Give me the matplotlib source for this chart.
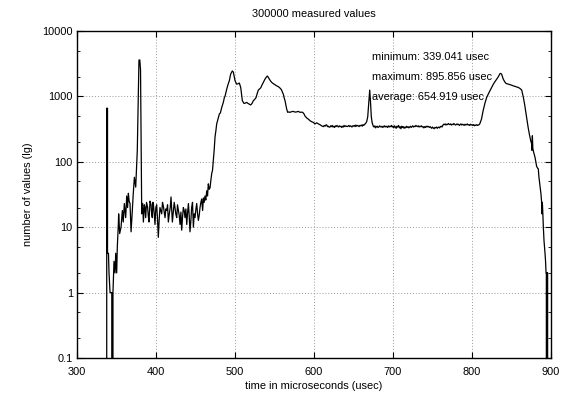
import matplotlib
matplotlib.use("Agg")
import matplotlib.pyplot as plt
from matplotlib.ticker import LogLocator, FixedLocator, NullFormatter

title = "300000 measured values"
xlabel = "time in microseconds (usec)"
ylabel = "number of values (lg)"
stats_text = ["minimum: 339.041 usec", "maximum: 895.856 usec", "average: 654.919 usec"]
x_ticks = [300, 400, 500, 600, 700, 800, 900]
y_ticks = [0.1, 1, 10, 100, 1000, 10000]
y_tick_labels = ["0.1", "1", "10", "100", "1000", "10000"]

# (time in usec, count)
time_us = [
    336, 337.6, 337.6, 338.6, 338.6, 339.8, 340.5, 341.8, 344.0, 344.0, 345.5, 345.5,
    346.8, 348.1, 349, 350.2, 351, 352.3, 352.7, 354, 355.7, 357.4, 358.5, 359.9,
    361.6, 362.9, 364, 365, 366, 367.1, 368.4, 369.2, 370, 371, 372.6, 374.3, 375.5,
    376.3, 377.6, 378.4, 379.5, 380.4, 381, 381.9,
    383.1, 384, 385.2, 386, 386.9, 388, 389.4, 390.2, 391.1, 392.4, 393.7, 394.5,
    395.3, 396, 396.6, 397.6, 398.7, 399.8, 400.8, 401.8, 402.9, 404, 405, 406,
    407.2, 408.2, 409.3, 410.4, 411.4, 412.4, 413.5, 414.6, 415.6, 416.8, 418, 419,
    420.7, 422, 423, 424, 425, 426.2, 427.2, 428.3, 429.4, 430.4, 431.5, 432.5,
    433.5, 434.6, 435.7, 436.7, 437.8, 438.9, 440, 441, 442, 443, 444, 445.1,
    446.2, 447.3, 448.3, 449.4, 450.5, 451.5, 452.6, 453.6, 454.6, 455.7, 456.8,
    457.8, 459, 460, 461, 462, 463, 464.2, 465.2, 466.2, 467.3, 468.4, 469.4,
    470.5, 471.5, 472.6, 473.6, 474.7, 475.8, 476.8, 478, 479, 480.2, 481.5, 483.2,
    485.2, 486.5, 487.3, 489.5, 491, 492.8, 494.5, 496.6, 497.9, 500, 502.1, 503.8,
    505.5, 507.2, 509.3, 511.4, 513, 514.8, 516.5, 518.1, 519.8, 521.5, 523.2,
    524.9, 526.6, 528, 529.5, 531, 532.5, 534.2, 535.9, 537.5, 539.2, 540.9, 542.2,
    543.5, 545, 546.4, 548, 549.4, 551, 552.7, 554.4, 556.1, 557.5, 559, 560.1,
    561.2, 562.2, 563.3, 564.3, 565.4, 566.7, 568, 569.6, 571.7, 573.8, 576, 578.1,
    580.2, 582.3, 584, 585.7, 587.3, 588.6, 589.9, 591.4, 592.8, 594.9, 597, 599.1,
    601.3, 603.4, 605.5, 607.5, 609.6, 611.8,
    613, 614, 615, 616, 617, 618, 619, 620, 621, 622, 623, 624, 625, 626, 627, 628,
    629, 630, 631, 632, 633, 634, 635, 636, 637, 638, 639, 640, 642, 643, 644, 645,
    646, 647, 648, 649, 650, 651, 652, 653, 654, 655, 656, 657, 658, 659, 660, 661,
    662, 663, 664, 665, 666.7, 668, 669.3, 670.5, 671.5, 672.5, 673.5, 675,
    676, 677, 678, 679, 680, 681, 682, 683, 684, 685, 686, 687, 688, 689, 690, 691,
    692, 693, 694, 695, 696, 697, 698, 699, 700, 701, 702, 703, 704, 705, 706, 707,
    708, 709, 710, 711, 712, 713, 714, 715, 716, 717, 718, 719, 720, 721, 722, 723,
    724, 725, 726, 727, 728, 729, 730, 731, 732, 733, 734, 735, 736, 737, 738, 739,
    740, 741, 742, 743, 744, 745, 746, 747,
    748, 749, 750, 751, 752, 753, 754, 755, 756, 757, 758, 759, 760, 761, 762, 763,
    764, 765, 766, 767, 768, 769, 770, 771, 772, 773, 774, 775, 776, 777, 778, 779,
    780, 781, 782, 783, 784, 785, 786, 787, 788, 789, 790, 791, 792, 793, 794, 795,
    796, 797, 798, 799, 800, 801, 802, 803, 804, 805, 806, 807, 808, 809, 810,
    812, 814, 816.5, 818.6, 820.8, 822.9, 825, 827, 829, 831.2, 833.3, 835.4, 836.4,
    837.5, 839.6, 841.3, 843, 844.5, 846, 849, 852.3, 855.5, 858.6, 860.8, 862.9,
    864, 865, 866.7, 868.4, 869.7, 871, 872.7, 874.3, 875.4, 875.8, 876.4, 877, 878,
    879.7, 880.8, 881.8, 883, 883.9, 884.6, 885.2, 886.2, 887.3, 888, 888.5, 889,
    889.5, 890.3, 891.1, 891.8, 892.4, 893.1, 893.7, 894.1, 894.1, 894.5, 894.5,
    894.9, 894.9, 895.3, 895.3, 895.7, 895.7, 897,
]
counts = [
    0, 0, 660, 660, 4, 4, 2, 1, 1, 0, 0, 1,
    3, 2, 4, 2, 5, 11, 16, 8, 10, 18, 12, 23,
    14, 30, 20, 33, 25, 23, 8.5, 12, 18, 30, 58, 41, 90,
    150, 1000, 3600, 3600, 2500, 280, 16,
    23, 12, 22, 20, 14, 24, 20, 15, 12, 25, 22, 16,
    14, 24, 23, 17, 11, 20, 22, 14, 7, 13, 20, 18,
    16, 24, 21, 17, 14, 19, 18, 22, 12, 16, 20, 29,
    12, 18, 24, 20, 16, 14, 22, 18, 15, 11, 17, 9,
    14, 20, 18, 14, 19, 11, 17, 23, 15, 8.5, 12, 20,
    24, 10, 16, 14, 19, 23, 16, 12.7, 15, 20, 24,
    27, 18, 28, 24, 30, 26, 36, 30, 46, 38, 40, 52,
    66, 74, 105, 150, 240, 300, 380, 430, 480, 540, 560, 680,
    810, 960, 1000, 1290, 1500, 1740, 2200, 2450, 2350, 1740, 1540, 1560,
    1600, 1370, 860, 780, 790, 810, 780, 760, 740, 780, 860,
    900, 960, 1100, 1250, 1300, 1350, 1500, 1640, 1800, 1940, 2050, 1950,
    1830, 1720, 1640, 1580, 1540, 1500, 1450, 1420, 1370, 1320, 1250, 1150,
    1080, 950, 860, 740, 640, 570, 580, 570, 585, 590, 575, 580,
    590, 570, 575, 570, 540, 500, 480, 460, 450, 425, 410, 400,
    380, 395, 380, 370, 355, 345,
    360, 350, 365, 367, 345, 350, 340, 338, 355, 345, 360, 340, 350, 335, 355, 345,
    360, 350, 340, 355, 345, 350, 335, 350, 340, 360, 345, 355, 345, 350, 360, 345,
    355, 350, 340, 355, 350, 360, 345, 365, 350, 360, 355, 345, 360, 355, 365, 350,
    370, 360, 375, 380, 412, 490, 790, 1250, 830, 490, 400, 350,
    340, 355, 330, 345, 350, 335, 340, 355, 345, 340, 350, 335, 345, 355, 340, 350,
    345, 335, 355, 340, 350, 345, 360, 340, 350, 330, 355, 340, 325, 350, 340, 360,
    330, 345, 320, 350, 335, 345, 325, 340, 330, 350, 335, 345, 330, 340, 350, 335,
    345, 355, 340, 350, 345, 360, 350, 345, 355, 340, 350, 345, 355, 340, 345, 330,
    345, 335, 350, 340, 350, 345, 335, 345,
    335, 325, 340, 330, 320, 335, 330, 340, 325, 335, 340, 330, 345, 350, 340, 360,
    375, 370, 380, 365, 375, 370, 385, 375, 370, 380, 365, 375, 370, 385, 375, 365,
    370, 380, 370, 375, 360, 370, 380, 365, 375, 370, 360, 375, 365, 370, 380, 365,
    370, 360, 375, 365, 370, 360, 370, 355, 365, 360, 370, 360, 365, 370, 385,
    450, 600, 800, 966, 1100, 1230, 1380, 1540, 1680, 1830, 2000, 2230, 2250,
    2180, 1830, 1680, 1580, 1560, 1540, 1500, 1450, 1410, 1370, 1320, 1250,
    1100, 966, 740, 540, 420, 338, 260, 210, 190, 150, 250, 160, 140,
    118, 100, 85, 80, 78, 60, 52, 40, 32, 25, 16, 24,
    18, 10, 6.3, 5, 4, 3, 2, 2, 0, 0, 2,
    2, 0, 0, 2, 2, 0, 0,
]

plt.rcParams['font.family'] = ['Liberation Sans', 'DejaVu Sans']
fs = 7.9
fig = plt.figure(figsize=(5.68, 3.94), dpi=100)
ax = fig.add_axes([0.1356, 0.0914, 0.8345, 0.8299])

ax.plot(time_us, counts, color='black', linewidth=0.9)
ax.set_yscale('log', nonpositive='clip')
ax.set_xlim(300, 900)
ax.set_ylim(0.1, 10000)

ax.set_xticks(x_ticks)
ax.set_xticklabels([str(t) for t in x_ticks])
ax.set_yticks(y_ticks)
ax.set_yticklabels(y_tick_labels)
ax.yaxis.set_minor_locator(LogLocator(base=10, subs=(2, 5)))
ax.yaxis.set_minor_formatter(NullFormatter())

ax.tick_params(axis='both', which='major', direction='in', length=4, width=0.8,
               top=True, right=True, labelsize=fs)
ax.tick_params(axis='x', which='major', pad=6.5)
ax.tick_params(axis='y', which='major', pad=3)
ax.tick_params(axis='both', which='minor', direction='in', length=2, width=0.6,
               top=True, right=True)
ax.grid(True, which='major', linestyle=(0, (1, 2)), color='#999999', linewidth=0.7)
for s in ax.spines.values():
    s.set_linewidth(1.0)

ax.set_xlabel(xlabel, fontsize=fs, labelpad=3)
ax.set_ylabel(ylabel, fontsize=fs, labelpad=7)
ax.set_title(title, fontsize=fs, pad=10)

for i, t in enumerate(stats_text):
    ax.text(0.622, 0.92 - i * 0.061, t, transform=ax.transAxes, fontsize=fs,
            ha='left', va='center')

fig.savefig('out.png', dpi=100)
